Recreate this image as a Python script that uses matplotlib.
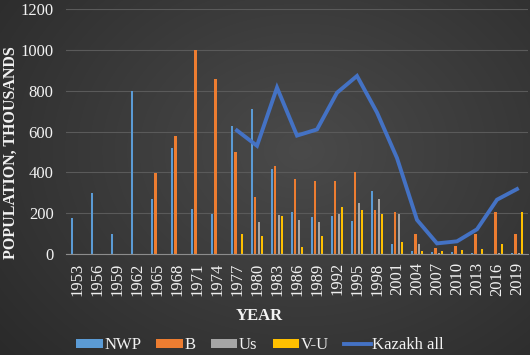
import matplotlib.pyplot as plt
import numpy as np

years = ["1953", "1956", "1959", "1962", "1965", "1968", "1971", "1974", "1977",
         "1980", "1983", "1986", "1989", "1992", "1995", "1998", "2001", "2004",
         "2007", "2010", "2013", "2016", "2019"]
nwp = [178, 298, 98, 800, 268, 520, 218, 198, 627, 708, 418, 208, 180, 188, 160,
       308, 48, 15, 10, 8, 3, 0, 3]
b = [0, 0, 0, 0, 398, 578, 1000, 859, 498, 279, 430, 369, 359, 359, 400, 217,
     208, 98, 28, 37, 98, 208, 98]
us = [0, 0, 0, 0, 0, 0, 0, 0, 0, 159, 193, 167, 159, 197, 249, 269, 198, 48,
      4, 0, 0, 3, 3]
vu = [0, 0, 0, 0, 0, 0, 0, 0, 98, 88, 188, 36, 86, 230, 216, 197, 57, 15, 15,
      20, 23, 48, 208]
kazakh_all = [np.nan] * 8 + [605, 530, 815, 580, 610, 790, 872, 693, 470, 167,
                             52, 62, 121, 266, 318]

plt.rcParams["font.family"] = ["Liberation Serif", "DejaVu Serif"]
txt = "#f2f2f2"

fig = plt.figure(figsize=(5.3, 3.55), dpi=100)

# radial dark background
bg = fig.add_axes([0, 0, 1, 1], zorder=-10)
yy, xx = np.mgrid[0:355, 0:530]
r = np.sqrt(((xx - 300) / 380.0) ** 2 + ((yy - 150) / 300.0) ** 2)
shade = np.clip(0.29 - 0.12 * r, 0.15, 0.3)
bg.imshow(np.dstack([shade] * 3), aspect="auto", extent=[0, 1, 0, 1])
bg.axis("off")

ax = fig.add_axes([66 / 530, 1 - 254 / 355, 462 / 530, 245 / 355])
ax.set_facecolor("none")

x = np.arange(len(years))
step = 0.17
w = 0.12
series = [(nwp, "#5B9BD5", "NWP"), (b, "#ED7D31", "B"),
          (us, "#A5A5A5", "Us"), (vu, "#FFC000", "V-U")]
handles = []
for i, (vals, col, lab) in enumerate(series):
    h = ax.bar(x + (i - 1.5) * step, vals, width=w, color=col, label=lab, zorder=2)
    handles.append(h)
line, = ax.plot(x, kazakh_all, color="#4472C4", lw=2.8, label="Kazakh all",
                zorder=3, solid_joinstyle="miter")
handles.append(line)

ax.set_xlim(-0.55, len(years) - 0.45)
ax.set_ylim(0, 1200)
ax.set_yticks(range(0, 1201, 200))
ax.grid(axis="y", color="#5a5a5a", lw=0.8, zorder=0)
ax.set_xticks(x)
ax.set_xticklabels(years, rotation=90)
ax.tick_params(colors=txt, labelsize=12, length=0)
ax.tick_params(axis="y", pad=9)
ax.tick_params(axis="x", pad=6)
for s in ["top", "right", "left"]:
    ax.spines[s].set_visible(False)
ax.spines["bottom"].set_color("#8c8c8c")
ax.spines["bottom"].set_zorder(4)

# label anchor is the right edge of the rotated text
ax.set_ylabel("POPULATION, THOUSANDS", color=txt, fontsize=11.5,
              fontweight="bold")
ax.yaxis.set_label_coords(-(66 - 19) / 462, 0.414)
ax.set_xlabel("YEAR", color=txt, fontsize=12, fontweight="bold")
ax.xaxis.set_label_coords(0.418, -(308 - 254) / 245)

fig.legend(handles=handles, labels=[hh.get_label() for hh in handles],
           loc="center", bbox_to_anchor=(260 / 530, 1 - 345 / 355), ncol=5,
           frameon=False, fontsize=12, handlelength=1.6, handleheight=0.45,
           columnspacing=0.9, handletextpad=0.1, labelcolor=txt,
           borderpad=0.1)

fig.savefig("out.png", dpi=100)
